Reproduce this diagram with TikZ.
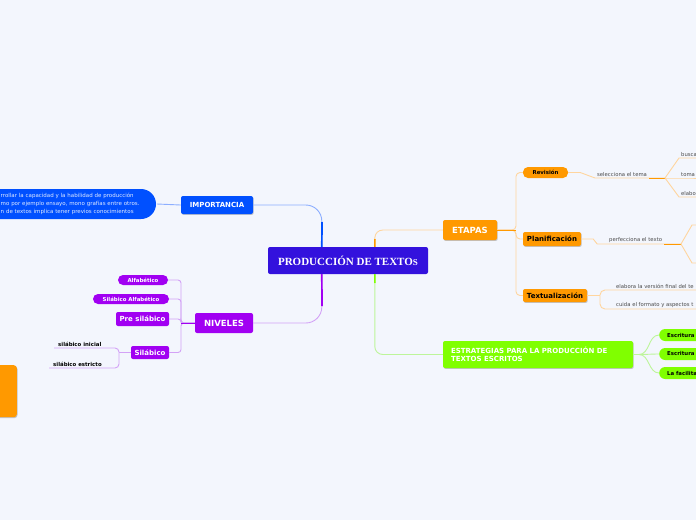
\documentclass[tikz,border=0pt]{standalone}
\usepackage{fontspec}
\setmainfont{DejaVu Sans}
\newfontfamily\serifbold{Liberation Serif}
\usetikzlibrary{positioning,shadows}

\definecolor{bgcol}{HTML}{F3F6FD}
\definecolor{coreblue}{HTML}{3311DD}
\definecolor{impblue}{HTML}{0050FF}
\definecolor{implight}{HTML}{8CAEFF}
\definecolor{nivpurple}{HTML}{A100F2}
\definecolor{nivlight}{HTML}{D3A2F6}
\definecolor{etaorange}{HTML}{FF9900}
\definecolor{etalight}{HTML}{FFD59E}
\definecolor{estgreen}{HTML}{80FF00}
\definecolor{estlight}{HTML}{BDF59A}
\definecolor{leafgray}{HTML}{4A4A4A}

\tikzset{
	boxshadow/.style={drop shadow={shadow xshift=0.7pt, shadow yshift=-0.9pt, opacity=0.3, fill=black!70}},
	mainbox/.style={fill=#1, rounded corners=2, inner sep=0, text=white, font=\bfseries\fontsize{7}{8}\selectfont},
	pillbox/.style={fill=#1, rounded corners=5, inner sep=0, font=\bfseries\fontsize{5.4}{6}\selectfont},
	leaf/.style={inner xsep=2, inner ysep=1.5, text=leafgray, font=\fontsize{5.3}{6}\selectfont},
	link/.style={line width=0.9, #1},
}

\begin{document}
\begin{tikzpicture}[x=1pt, y=-1pt]
	\useasboundingbox (0,0) rectangle (696,520);
	\fill[bgcol] (0,0) rectangle (696,520);
	\clip (0,0) rectangle (696,520);

	\node[fill=coreblue, text=white, rounded corners=2, inner sep=0, minimum width=160, minimum height=27, font=\serifbold\bfseries\fontsize{11}{12}\selectfont] (core) at (348,260.5) {PRODUCCIÓN DE TEXTO{\fontsize{9}{10}\selectfont S}};

	\fill[impblue, rounded corners=15] (-30,189) rectangle (156,219);
	\node[anchor=west, text width=156, inner sep=0, align=left, text=white!88!impblue, font=\fontsize{5.5}{8}\selectfont] (impnote) at (0.5,204) {rrollar la capacidad y la habilidad de producción\\mo por ejemplo ensayo, mono grafías entre otros.\\n de textos implica tener previos conocimientos};
	\node[mainbox=impblue, boxshadow, minimum width=72, minimum height=18] (imp) at (217,205) {IMPORTANCIA};

	\node[mainbox=nivpurple, minimum width=58, minimum height=20, font=\bfseries\fontsize{8.5}{9}\selectfont] (niv) at (224,323) {NIVELES};
	\node[pillbox=nivpurple, text=white, minimum width=50, minimum height=10] (alf) at (143,280) {Alfabético};
	\node[pillbox=nivpurple, text=white, minimum width=76, minimum height=10] (silalf) at (131,299) {Silábico Alfabético};
	\node[mainbox=nivpurple, minimum width=53, minimum height=14] (presil) at (142.5,319) {Pre silábico};
	\node[mainbox=nivpurple, minimum width=38, minimum height=13] (sil) at (150,352.5) {Silábico};
	\node[leaf, text=black, font=\bfseries\fontsize{5.4}{6}\selectfont, inner xsep=4, anchor=south west] (silini) at (54,348) {silábico inicial};
	\node[leaf, text=black, font=\bfseries\fontsize{5.4}{6}\selectfont, inner xsep=4, anchor=south west] (silest) at (49,368) {silábico estricto};

	\node[fill=etaorange, rounded corners=3, boxshadow, minimum width=40, minimum height=52, anchor=north east] (orangebox) at (17,365) {};

	\node[mainbox=etaorange, boxshadow, minimum width=54, minimum height=20, font=\bfseries\fontsize{8.5}{9}\selectfont] (eta) at (470,230) {ETAPAS};
	\node[pillbox=etaorange, minimum width=45, minimum height=11] (rev) at (545.5,172.5) {Revisión};
	\node[mainbox=etaorange, text=black, boxshadow, minimum width=58, minimum height=14] (plan) at (552,239) {Planificación};
	\node[mainbox=etaorange, text=black, boxshadow, minimum width=64, minimum height=13] (textu) at (555,295.5) {Textualización};

	\node[leaf, anchor=south west] (selec) at (595,178) {selecciona el tema};
	\foreach \n/\y in {busca/158, toma/178, elabo/197} {
		\node[leaf, anchor=south west] (\n) at (679,\y) {\n};
	}
	\node[leaf, anchor=south west] (perf) at (607,244) {perfecciona el texto};
	\node[leaf, anchor=south west] (elab) at (614,290) {elabora la versión final del te};
	\node[leaf, anchor=south west] (cuida) at (614,309) {cuida el formato y aspectos t};

	\node[mainbox=estgreen, boxshadow, minimum width=190, minimum height=27, text width=174, align=left] (est) at (538,354.5) {ESTRATEGIAS PARA LA PRODUCCIÓN DE\\TEXTOS ESCRITOS};
	\foreach \n/\y/\t in {esc1/335/Escritura, esc2/354/Escritura p, lafac/373/La facilita} {
		\node[pillbox=estgreen, rounded corners=6, minimum height=12, text width=50, inner xsep=8, align=left, anchor=west] (\n) at (659,\y) {\t};
	}

	\coordinate (impbend) at (322,222);
	\coordinate (nivbend) at (322,306);
	\coordinate (etabend) at (375,239);
	\coordinate (estbend) at (375,283);
	\draw[link=implight] (impnote.east) -- (imp.west);
	\draw[link=implight, rounded corners=16] (imp.east) -| ([xshift=54pt]core.north west);
	\draw[impblue, line width=1.7] (impbend) -- ([xshift=54pt]core.north west);
	\draw[link=nivlight, rounded corners=16] (niv.east) -| ([xshift=54pt]core.south west);
	\draw[nivpurple, line width=1.7] (nivbend) -- ([xshift=54pt]core.south west);
	\draw[link=etalight, rounded corners=8] ([xshift=107pt]core.north west) |- (eta.west);
	\draw[etaorange, line width=1.5] (etabend) -- ([xshift=107pt]core.north west);
	\draw[link=estlight, rounded corners=8] ([xshift=107pt]core.south west) |- (est.west);
	\draw[estgreen, line width=1.5] (estbend) -- ([xshift=107pt]core.south west);

	\coordinate (nivj) at (181,323);
	\foreach \n in {alf, silalf, presil, sil} {
		\draw[link=nivlight, rounded corners=3] (\n.east) -| (nivj) -- (niv.west);
	}
	\draw[nivpurple, line width=0.9] (nivj) -- (niv.west);
	\coordinate (silj) at (119,352.5);
	\draw[link=nivlight] (sil.west) -- (silj);
	\draw[link=nivlight, rounded corners=4] (silj) |- (silini.south west);
	\draw[link=nivlight, rounded corners=4] (silj) |- (silest.south west);

	\coordinate (etaj) at (516,230);
	\foreach \n in {rev, plan, textu} {
		\draw[link=etalight, rounded corners=4] (\n.west) -| (etaj) -- (eta.east);
	}
	\draw[etaorange, line width=0.9] (etaj) -- (eta.east);

	\coordinate (revj) at (665,178);
	\draw[link=etalight] (rev.east) -- ++(12,0) -- (selec.south west) -- (revj);
	\draw[etaorange, line width=0.9] (selec.south east) -- (revj);
	\foreach \n in {busca, toma, elabo} {
		\draw[link=etalight] (revj) -- (\n.south west) -- ++(30,0);
	}
	\coordinate (planj) at (681,244);
	\draw[link=etalight] (plan.east) -- ++(12,0) -- ++(4,5) -- (perf.south west) -- (planj);
	\draw[etaorange, line width=0.9] (perf.south east) -- (planj);
	\draw[link=etalight] (planj) -- ++(11,-19) -- ++(20,0);
	\draw[link=etalight] (planj) -- ++(11,19) -- ++(20,0);
	\coordinate (textj) at (600,295.5);
	\draw[link=etalight] (textu.east) -- (textj);
	\draw[link=etalight, rounded corners=5] (textj) |- (elab.south west) -- ++(90,0);
	\draw[link=etalight, rounded corners=5] (textj) |- (cuida.south west) -- ++(90,0);

	\coordinate (estj) at (639,354.5);
	\draw[link=estlight] (est.east) -- (estj);
	\foreach \n in {esc1, esc2, lafac} {
		\draw[link=estlight] (estj) to[out=0, in=180] (\n.west);
	}
\end{tikzpicture}
\end{document}
